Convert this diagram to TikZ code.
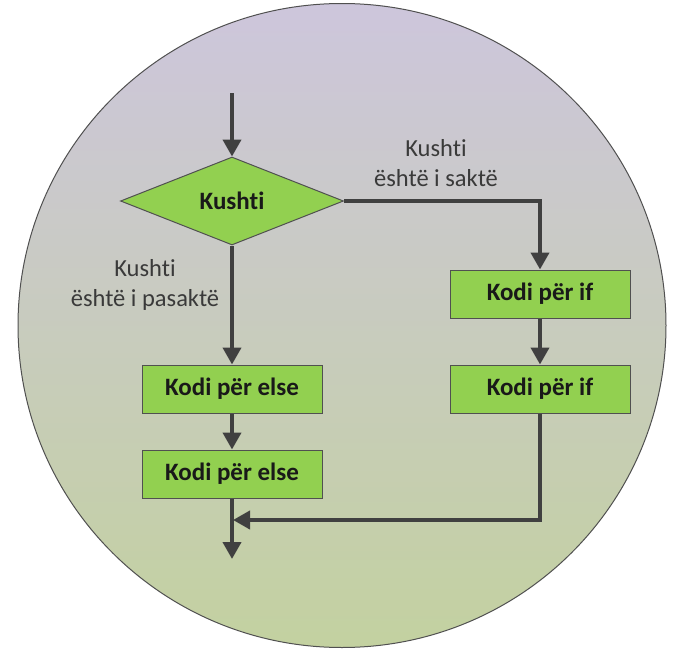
\documentclass[tikz,border=0pt]{standalone}
\usepackage{fontspec}
\setmainfont[Ligatures=NoCommon]{Carlito}
\usetikzlibrary{shapes.geometric,arrows.meta}
\definecolor{topbg}{HTML}{CDC6DC}
\definecolor{botbg}{HTML}{C3D1A0}
\definecolor{boxgreen}{HTML}{92D050}
\definecolor{edgegray}{HTML}{505050}
\definecolor{flowgray}{HTML}{404040}
\definecolor{labelgray}{HTML}{3A3A3A}
\tikzset{
  codebox/.style={draw=edgegray, line width=1pt, fill=boxgreen,
    minimum width=180pt, minimum height=48pt, inner sep=0pt,
    font=\fontsize{25}{30}\selectfont\bfseries, text=black!90},
  decision/.style={shape=diamond, draw=edgegray, line width=1pt, fill=boxgreen,
    minimum width=223pt, minimum height=88pt, inner sep=0pt, aspect=2.53,
    font=\fontsize{25}{30}\selectfont\bfseries, text=black!90},
  flowlabel/.style={align=center, text=labelgray,
    font=\fontsize{24.5}{29.5}\selectfont},
  flow/.style={draw=flowgray, line width=4pt,
    -{Triangle[length=17pt,width=18pt]}}
}
\begin{document}
\begin{tikzpicture}[x=1pt,y=-1pt]
  \useasboundingbox (0,0) rectangle (673,651);
  \fill[white] (0,0) rectangle (673,651);

  % round backdrop with a vertical gradient
  \shade[top color=topbg, bottom color=botbg, draw=edgegray, line width=1pt]
    (342,325.5) ellipse [x radius=324, y radius=322];

  % nodes
  \node[decision] (cond) at (232,201) {Kushti};
  \node[codebox] (if1) at (540,294) {Kodi për if};
  \node[codebox] (if2) at (540,389) {Kodi për if};
  \node[codebox] (else1) at (232,389) {Kodi për else};
  \node[codebox] (else2) at (232,474) {Kodi për else};

  \node[flowlabel] (truelbl) at (436,163) {Kushti\\është i saktë};
  \node[flowlabel] (falselbl) at (145,285) {Kushti\\është i pasaktë};

  \coordinate (start) at (232,93);
  \coordinate (join) at (232,520);
  \coordinate (finish) at (232,559);

  % connectors
  \draw[flow] (start) -- (cond.north);
  \draw[flow] (cond.east) -| (if1.north);
  \draw[flow] (if1.south) -- (if2.north);
  \draw[flow] (cond.south) -- (else1.north);
  \draw[flow] (else1.south) -- (else2.north);
  \draw[flow] (if2.south) |- ([xshift=1pt]join);
  \draw[flow] (else2.south) -- (finish);
\end{tikzpicture}
\end{document}
